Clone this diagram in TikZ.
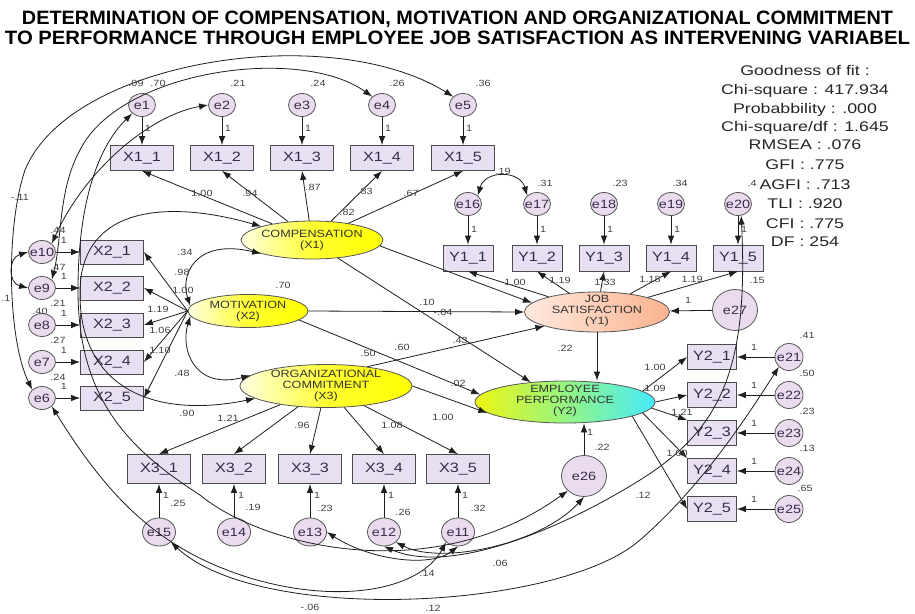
\documentclass[tikz,border=0pt]{standalone}
\usepackage{fontspec}
\usepackage{graphicx}
\setmainfont{Liberation Sans}
\newfontfamily\dg[FakeStretch=1.2]{Liberation Sans}
\newfontfamily\gf[FakeStretch=1.27]{Liberation Sans}
\usetikzlibrary{shapes.geometric,arrows.meta}
\definecolor{boxfill}{RGB}{232,224,242}
\definecolor{errfill}{RGB}{234,220,238}
\definecolor{txt}{RGB}{55,45,75}
\definecolor{ln}{RGB}{30,30,30}
\definecolor{yA}{RGB}{255,255,228}
\definecolor{yB}{RGB}{255,255,50}
\definecolor{yC}{RGB}{255,255,0}
\definecolor{pA}{RGB}{255,234,222}
\definecolor{pC}{RGB}{250,178,142}
\definecolor{cA}{RGB}{238,245,20}
\definecolor{cB}{RGB}{150,245,130}
\definecolor{cC}{RGB}{70,235,250}
\begin{document}
\begin{tikzpicture}[x=1pt,y=-1pt,
  obs/.style={draw=ln!80, line width=0.8pt, fill=boxfill, inner sep=0, minimum width=63pt, minimum height=25pt, text=txt, font=\dg\fontsize{13.5}{14}\selectfont},
  obsy/.style={obs, minimum width=50pt, minimum height=26pt},
  err/.style={ellipse, draw=ln!75, line width=0.8pt, fill=errfill, inner sep=0, minimum width=27pt, minimum height=23pt, text=txt, font=\dg\fontsize{12}{12}\selectfont},
  errm/.style={err, minimum width=33pt, minimum height=28pt},
  errb/.style={err, minimum width=45pt, minimum height=41pt},
  lat/.style={ellipse, draw=ln!75, line width=0.8pt, inner sep=0},
  lattext/.style={align=center, inner sep=0, text=black!80, font=\dg\fontsize{10.5}{11}\selectfont},
  yel/.style={left color=yA, right color=yC, middle color=yB},
  lbl/.style={inner sep=0.5pt, text=black!75, font=\dg\fontsize{9}{9}\selectfont},
  arr/.style={-{Latex[length=9pt,width=6.5pt]}, line width=0.8pt, draw=ln},
  cov/.style={{Latex[length=9pt,width=6.5pt]}-{Latex[length=9pt,width=6.5pt]}, line width=0.8pt, draw=ln},
]
\fill[white] (0,0) rectangle (915,613);
\useasboundingbox (0,0) rectangle (915,613);

% title
\node[anchor=base] (t1) at (457.5,24) {\resizebox{871pt}{13.5pt}{\bfseries DETERMINATION OF COMPENSATION, MOTIVATION AND ORGANIZATIONAL COMMITMENT}};
\node[anchor=base] (t2) at (457.5,44) {\resizebox{905pt}{13.5pt}{\bfseries TO PERFORMANCE THROUGH EMPLOYEE JOB SATISFACTION AS INTERVENING VARIABEL}};

% goodness of fit
\begin{scope}[every node/.style={anchor=base, inner sep=0, text=black!85, font=\gf\fontsize{14}{14}\selectfont}]
\node (g0) at (805,75) {Goodness of fit :};
\node (g1) at (805,94) {Chi-square : 417.934};
\node (g2) at (805,113) {Probabbility : .000};
\node (g3) at (805,131) {Chi-square/df : 1.645};
\node (g4) at (805,149) {RMSEA : .076};
\node (g5) at (805,169) {GFI : .775};
\node (g6) at (805,189) {AGFI : .713};
\node (g7) at (805,208) {TLI : .920};
\node (g8) at (805,228) {CFI : .775};
\node (g9) at (805,246) {DF : 254};
\end{scope}

% latent variables
\node[lat, yel, minimum width=142pt, minimum height=38pt] (COMP) at (312,240) {};
\node[lattext] (COMPt) at (312,240) {COMPENSATION\\(X1)};
\node[lat, yel, minimum width=120pt, minimum height=33pt] (MOT) at (248,311) {};
\node[lattext] (MOTt) at (248,311) {MOTIVATION\\(X2)};
\node[lat, yel, minimum width=172pt, minimum height=43pt] (ORG) at (326,386) {};
\node[lattext] (ORGt) at (326,386) {ORGANIZATIONAL\\COMMITMENT\\(X3)};
\node[lat, left color=pA, right color=pC, minimum width=145pt, minimum height=40pt] (JS) at (597,312) {};
\node[lattext] (JSt) at (597,311) {JOB\\SATISFACTION\\(Y1)};
\node[lat, left color=cA, right color=cC, middle color=cB, minimum width=180pt, minimum height=42pt] (EP) at (565,402) {};
\node[lattext] (EPt) at (565,401) {EMPLOYEE\\PERFORMANCE\\(Y2)};
\node[errb] (e27) at (735,310) {\makebox[0pt]{e27}};
\node[errb] (e26) at (584,476) {\makebox[0pt]{e26}};

% X1 indicators
\foreach \i/\x in {1/142,2/222,3/302,4/382,5/463}{
  \node[err] (e\i) at (\x,105) {\makebox[0pt]{e\i}};
  \node[obs] (xa\i) at (\x,158) {X1\_\i};
  \draw[arr] (e\i) -- (xa\i);
  \node[lbl] (oa\i) at (\x+6,128) {1};
  \draw[arr] (COMP) -- (xa\i.south);
}
% X2 indicators
\foreach \i/\y/\e in {1/252/10,2/288/9,3/325/8,4/362/7,5/398/6}{
  \node[err] (e\e) at (42,\y) {\makebox[0pt]{e\e}};
  \node[obs, minimum height=24pt] (xb\i) at (112,\y) {X2\_\i};
  \draw[arr] (e\e) -- (xb\i);
  \node[lbl] (ob\i) at (64,\y-12) {1};
  \draw[arr] (MOT.west) -- (xb\i.east);
}
% X3 indicators
\foreach \i/\x/\e in {1/159/15,2/234/14,3/310/13,4/384/12,5/458/11}{
  \node[obs, minimum height=29pt] (xc\i) at (\x,469) {X3\_\i};
  \node[errm] (e\e) at (\x,532) {\makebox[0pt]{e\e}};
  \draw[arr] (e\e) -- (xc\i);
  \node[lbl] (oc\i) at (\x+7,495) {1};
  \draw[arr] (ORG) -- (xc\i.north);
}
% Y1 indicators
\foreach \i/\x/\e in {1/468/16,2/537/17,3/604/18,4/671/19,5/738/20}{
  \node[err] (e\e) at (\x,204) {\makebox[0pt]{e\e}};
  \node[obsy] (ya\i) at (\x,258) {Y1\_\i};
  \draw[arr] (e\e) -- (ya\i);
  \node[lbl] (od\i) at (\x+6,229) {1};
  \draw[arr] (JS) -- (ya\i.south);
}
% Y2 indicators
\foreach \i/\y/\e in {1/357/21,2/395/22,3/433/23,4/471/24,5/509/25}{
  \node[obsy, minimum width=49pt, minimum height=25pt] (yb\i) at (712,\y) {Y2\_\i};
  \node[err, minimum width=28pt, minimum height=27pt] (e\e) at (789,\y) {\makebox[0pt]{e\e}};
  \draw[arr] (e\e) -- (yb\i);
  \node[lbl] (oe\i) at (754,\y-10) {1};
}
\draw[arr] (EP.8) -- (yb1.west);
\draw[arr] (EP.0) -- (yb2.west);
\draw[arr] (EP.-4) -- (yb3.north west);
\draw[arr] (EP.-8) -- (yb4.north west);
\draw[arr] (EP.-12) -- (yb5.west);

% structural paths
\draw[arr] (COMP.-5) -- (JS.172);
\draw[arr] (COMP.-35) -- (EP.150);
\draw[arr] (MOT.east) -- (JS.west);
\draw[arr] (MOT.-10) -- (EP.175);
\draw[arr] (ORG.25) -- (JS.195);
\draw[arr] (ORG.east) -- (EP.188);
\draw[arr] (JS.south) -- (JS.south |- EP.north);
\draw[arr] (e27) -- (JS);
\draw[arr] (e26.north) -- (e26.north |- EP.south);

% covariances
\draw[cov] (e16.north east) .. controls (485,170) and (520,170) .. (e17.north west);
\draw[cov] (MOT.175) .. controls (180,275) and (195,238) .. (COMP.195);
\draw[cov] (MOT.185) .. controls (180,350) and (195,390) .. (ORG.172);
\draw[cov] (COMP.165) .. controls (170,200) and (82,205) .. (80,290) .. controls (78,385) and (150,420) .. (ORG.190);
\draw[cov] (e6.north west) .. controls (8,340) and (5,230) .. (25,170) .. controls (70,60) and (330,20) .. (e5.north west);
\draw[cov] (e9.north east) .. controls (62,240) and (58,190) .. (80,150) .. controls (120,70) and (300,45) .. (e4.north west);
\draw[cov] (e10.north east) .. controls (85,170) and (150,115) .. (e2.west);
\draw[cov] (e10.west) .. controls (8,258) and (8,283) .. (e9.west);
\draw[cov] (e1.south west) .. controls (95,150) and (78,210) .. (78,290) .. controls (78,400) and (130,450) .. (200,495) .. controls (260,545) and (430,590) .. (e26.south west);
\draw[cov] (e13.east) .. controls (370,560) and (430,568) .. (e11.south);
\draw[cov] (e12.south east) .. controls (440,565) and (540,545) .. (e26.south);
\draw[cov] (e6.south east) .. controls (110,500) and (160,550) .. (250,578) .. controls (340,605) and (420,590) .. (e11.south west);
\draw[cov] (e15.south east) .. controls (260,625) and (560,610) .. (640,540) .. controls (700,488) and (745,420) .. (e21.south west);
\draw[cov] (e20.-75) .. controls (749,370) and (720,430) .. (640,480) .. controls (560,530) and (450,575) .. (e12.south);

% estimates
\foreach \x/\y/\t in {202/193/1.00, 250/193/.94, 313/187/.87, 365/191/.83, 411/193/.67, 347/212/.82,
  136/83/.09, 158/83/.70, 238/83/.21, 318/83/.24, 397/83/.26, 483/83/.36,
  283/285/.70, 185/252/.34, 182/272/.98, 183/290/1.00, 158/309/1.19, 160/330/1.06, 160/350/1.10, 182/373/.48,
  58/230/.44, 58/267/.47, 58/303/.21, 40/311/.40, 58/340/.27, 58/377/.24,
  20/197/-.11, 6/298/.1,
  187/413/.90, 228/418/1.21, 302/425/.96, 392/425/1.08, 443/417/1.00,
  178/503/.25, 253/507/.19, 325/508/.23, 403/512/.26, 478/508/.32,
  427/302/.10, 443/312/-.04, 368/353/.50, 402/347/.60, 460/340/.43, 458/383/.02, 565/348/.22,
  503/171/.19, 545/183/.31, 620/183/.23, 680/183/.34, 752/183/.4,
  515/282/1.00, 560/280/1.19, 605/282/1.33, 650/279/1.18, 692/279/1.19,
  688/300/1, 757/280/.15,
  807/335/.41, 807/373/.50, 807/411/.23, 807/448/.13, 805/488/.65,
  655/367/1.00, 655/388/1.09, 682/412/1.21, 677/453/1.00, 643/495/.12,
  590/432/1, 602/447/.22,
  427/573/.14, 500/563/.06, 433/608/.12, 310/607/-.06}{
  \node[lbl] (L\x-\y) at (\x,\y) {\t};
}
\end{tikzpicture}
\end{document}
